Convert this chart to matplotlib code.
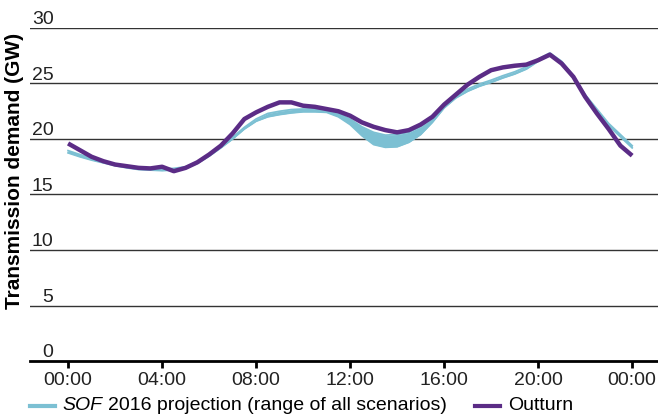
import numpy as np
import matplotlib.pyplot as plt
from matplotlib.lines import Line2D

plt.rcParams['font.family'] = ['Liberation Sans', 'DejaVu Sans']

# half-hourly values, 00:00 to 00:00 next day
hours = np.arange(0, 24.01, 0.5)
outturn = [19.6, 19.0, 18.4, 18.0, 17.7, 17.55, 17.4, 17.35, 17.5, 17.1,
           17.4, 17.9, 18.6, 19.4, 20.5, 21.8, 22.4, 22.9, 23.3, 23.3,
           23.0, 22.9, 22.7, 22.5, 22.1, 21.5, 21.1, 20.8, 20.6, 20.8,
           21.3, 22.0, 23.1, 24.0, 24.9, 25.6, 26.2, 26.45, 26.6, 26.7,
           27.1, 27.6, 26.8, 25.6, 23.8, 22.3, 20.9, 19.4, 18.5]
proj_low = [18.75, 18.4, 18.1, 17.85, 17.6, 17.4, 17.25, 17.2, 17.15, 17.2,
            17.35, 17.8, 18.45, 19.2, 20.0, 20.9, 21.6, 22.0, 22.2, 22.35,
            22.45, 22.45, 22.4, 22.0, 21.3, 20.3, 19.5, 19.25, 19.3, 19.7,
            20.4, 21.5, 22.8, 23.7, 24.3, 24.75, 25.1, 25.5, 25.85, 26.3,
            27.0, 27.55, 26.8, 25.5, 23.8, 22.5, 21.2, 20.2, 19.2]
proj_high = [18.95, 18.6, 18.3, 18.0, 17.75, 17.55, 17.4, 17.35, 17.3, 17.35,
             17.5, 17.95, 18.6, 19.35, 20.15, 21.05, 21.8, 22.3, 22.5, 22.65,
             22.7, 22.7, 22.6, 22.3, 21.8, 21.1, 20.6, 20.35, 20.4, 20.6,
             21.1, 21.9, 23.0, 23.9, 24.5, 24.95, 25.3, 25.7, 26.05, 26.5,
             27.2, 27.75, 27.0, 25.7, 24.0, 22.7, 21.4, 20.4, 19.4]
x_ticks = [0, 4, 8, 12, 16, 20, 24]
x_labels = ['00:00', '04:00', '08:00', '12:00', '16:00', '20:00', '00:00']
y_ticks = [0, 5, 10, 15, 20, 25, 30]

cyan = '#7cc0d3'
purple = '#5b2c86'
fs = 14

fig = plt.figure(figsize=(6.58, 4.17), dpi=100)
ax = fig.add_axes([30/658, 1-361/417, 1-30/658, (361-28)/417])

for v in y_ticks[1:]:
    ax.axhline(v, color='#333333', lw=1, zorder=1)
for v in y_ticks:
    ax.text(-0.62, v + 0.35, str(v), ha='right', va='baseline', fontsize=fs, color='#222222')

ax.fill_between(hours, proj_low, proj_high, color=cyan, lw=0, zorder=2)
ax.plot(hours, proj_low, color=cyan, lw=1.3, zorder=2)
ax.plot(hours, proj_high, color=cyan, lw=1.3, zorder=2)
ax.plot(hours, outturn, color=purple, lw=3.2, zorder=3, solid_capstyle='butt')

ax.set_xlim(-1.62, 25.1)
ax.set_ylim(0, 30)
for s in ['top', 'right', 'left']:
    ax.spines[s].set_visible(False)
ax.spines['bottom'].set_linewidth(2)
ax.set_yticks([])
ax.set_xticks(x_ticks)
ax.set_xticklabels(x_labels, fontsize=fs, color='#222222')
ax.tick_params(axis='x', length=5, width=2, pad=3)

fig.text(15/658, 1-171/417, 'Transmission demand (GW)', rotation=90,
         ha='center', va='center', fontsize=15, fontweight='bold')

# legend
ly = 1 - 406/417
fig.add_artist(Line2D([30/658, 55/658], [ly, ly], color=cyan, lw=3, transform=fig.transFigure))
fig.text(62/658, ly, 'SOF', style='italic', fontsize=fs, va='center')
fig.text(108/658, ly, '2016 projection (range of all scenarios)', fontsize=fs, va='center')
fig.add_artist(Line2D([475/658, 500/658], [ly, ly], color=purple, lw=3, transform=fig.transFigure))
fig.text(508/658, ly, 'Outturn', fontsize=fs, va='center')

fig.savefig('out.png', dpi=100)
